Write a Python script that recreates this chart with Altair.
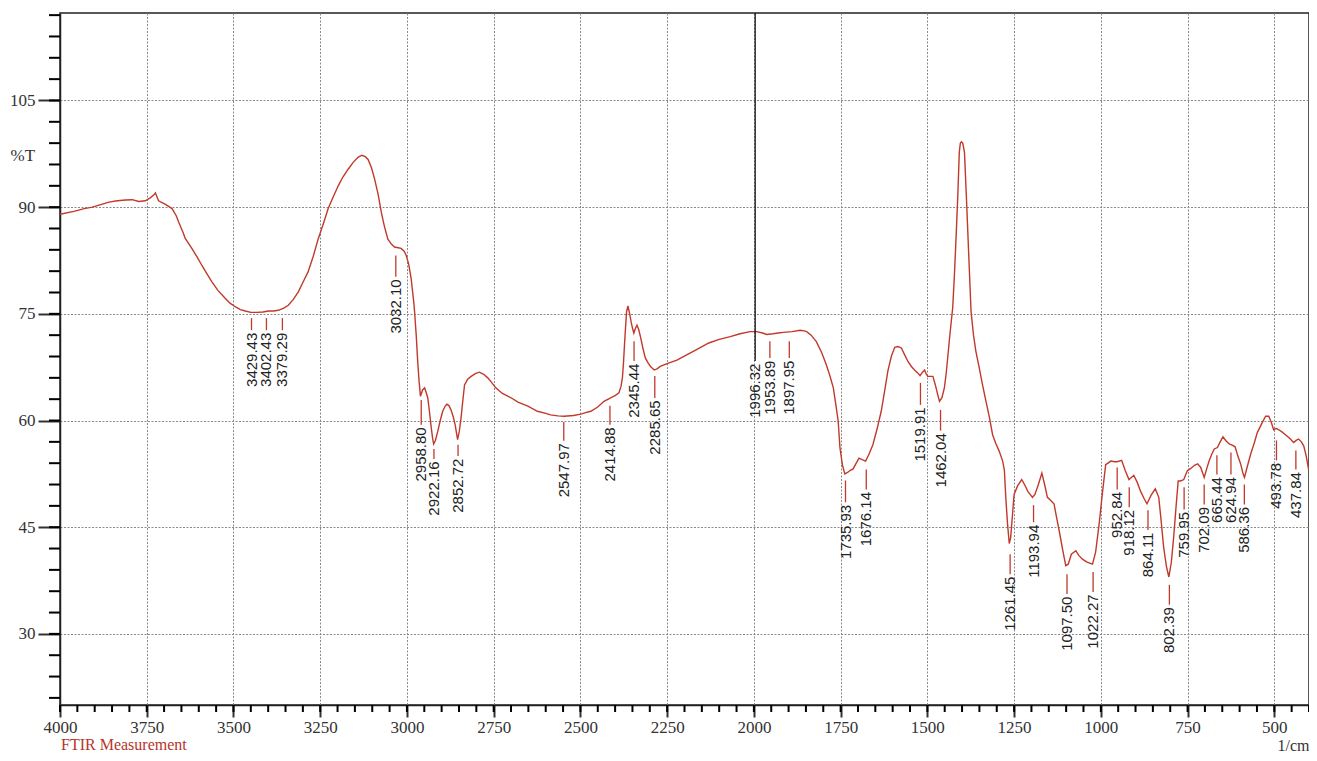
import altair as alt
import pandas as pd

# ---------------- spectrum ----------------
wavenumber = [
    4000, 3960, 3930, 3907, 3880, 3859, 3835, 3811, 3792, 3773, 3754, 3740, 3730, 3725, 3720, 3716,
    3696, 3677, 3665, 3658, 3645, 3639, 3620, 3605, 3591, 3575, 3562, 3545, 3524, 3510, 3495, 3480,
    3466, 3450, 3433, 3415, 3399, 3385, 3371, 3355, 3342, 3328, 3313, 3300, 3285, 3270, 3256, 3240,
    3227, 3212, 3198, 3185, 3170, 3155, 3141, 3130, 3120, 3112, 3102, 3093, 3083, 3074, 3065, 3055,
    3045, 3036, 3025, 3017, 3008, 3002, 2995, 2988, 2980, 2978, 2973, 2969, 2965, 2961, 2955, 2949,
    2945, 2940, 2935, 2930, 2926, 2923, 2918, 2911, 2904, 2897, 2890, 2885, 2879, 2873, 2867, 2861,
    2857, 2854, 2849, 2844, 2839, 2834, 2825, 2815, 2803, 2791, 2779, 2767, 2755, 2744, 2725, 2700,
    2680, 2650, 2624, 2600, 2586, 2565, 2547, 2520, 2499, 2485, 2470, 2450, 2432, 2413, 2400, 2389,
    2383, 2379, 2376, 2373, 2370, 2367, 2363, 2358, 2354, 2350, 2346, 2341, 2337, 2332, 2327, 2320,
    2313, 2305, 2298, 2287, 2278, 2270, 2250, 2222, 2195, 2164, 2130, 2100, 2068, 2040, 2011, 1992,
    1975, 1963, 1945, 1930, 1915, 1890, 1867, 1855, 1848, 1835, 1820, 1805, 1791, 1781, 1771, 1764,
    1757, 1752, 1745, 1738, 1730, 1722, 1714, 1705, 1697, 1688, 1678, 1668, 1657, 1645, 1633, 1622,
    1614, 1604, 1594, 1585, 1575, 1565, 1556, 1546, 1537, 1528, 1521, 1514, 1508, 1503, 1499, 1490,
    1484, 1477, 1470, 1465, 1458, 1451, 1446, 1441, 1436, 1431, 1427, 1422, 1417, 1412, 1408, 1405,
    1402, 1398, 1393, 1388, 1383, 1378, 1374, 1367, 1360, 1350, 1341, 1331, 1321, 1312, 1303, 1293,
    1283, 1278, 1274, 1269, 1264, 1260, 1256, 1250, 1240, 1228, 1220, 1210, 1197, 1190, 1180, 1170,
    1162, 1154, 1145, 1135, 1128, 1120, 1110, 1101, 1094, 1085, 1072, 1063, 1053, 1040, 1024, 1015,
    1005, 995, 986, 971, 960, 953, 940, 930, 919, 912, 905, 895, 885, 875, 867, 855,
    843, 833, 826, 819, 811, 804, 797, 790, 783, 777, 770, 761, 751, 740, 730, 721,
    712, 702, 695, 688, 680, 673, 664, 656, 648, 640, 630, 620, 613, 605, 597, 590,
    586, 578, 568, 558, 549, 537, 525, 516, 509, 502, 495, 487, 478, 468, 456, 444,
    437, 430, 422, 415, 408, 401,
]
transmittance = [
    89.0, 89.4, 89.8, 90.0, 90.4, 90.7, 90.9, 91.0, 91.05, 90.8, 90.9, 91.3, 91.7, 92.0, 91.4, 90.9,
    90.4, 89.8, 88.8, 87.9, 86.4, 85.6, 84.2, 83.0, 81.8, 80.5, 79.5, 78.3, 77.2, 76.5, 76.0, 75.6,
    75.4, 75.2, 75.2, 75.25, 75.4, 75.4, 75.5, 75.8, 76.2, 77.0, 78.1, 79.4, 80.9, 83.1, 85.5, 87.8,
    89.8, 91.5, 93.0, 94.2, 95.3, 96.3, 97.0, 97.3, 97.1, 96.7, 95.5, 93.9, 91.8, 89.3, 87.3, 85.5,
    84.8, 84.4, 84.3, 84.2, 83.8, 83.2, 82.0, 80.0, 76.5, 75.3, 71.8, 68.3, 65.5, 63.4, 64.3, 64.6,
    64.0, 63.2, 61.2, 59.0, 57.5, 56.7, 57.2, 58.5, 60.0, 61.3, 62.0, 62.3, 62.1, 61.5, 60.6, 59.4,
    58.2, 57.3, 58.5, 60.4, 62.8, 65.0, 65.8, 66.2, 66.6, 66.8, 66.5, 66.0, 65.3, 64.6, 63.8, 63.2,
    62.6, 62.0, 61.3, 61.0, 60.8, 60.65, 60.6, 60.7, 60.9, 61.1, 61.3, 61.9, 62.7, 63.2, 63.5, 63.9,
    64.8, 66.0, 68.0, 70.6, 73.0, 75.3, 76.1, 75.0, 73.9, 73.0, 72.3, 73.0, 73.4, 72.8, 71.8, 70.2,
    68.8, 68.1, 67.6, 67.1, 67.3, 67.6, 68.0, 68.5, 69.2, 70.0, 70.9, 71.4, 71.8, 72.2, 72.5, 72.5,
    72.3, 72.1, 72.2, 72.3, 72.4, 72.5, 72.7, 72.6, 72.5, 72.0, 71.1, 69.6, 67.8, 66.3, 64.6, 62.3,
    59.9, 56.2, 53.8, 52.5, 52.7, 53.0, 53.2, 54.0, 54.7, 54.5, 54.3, 55.3, 56.6, 58.8, 61.3, 64.5,
    66.9, 69.0, 70.3, 70.4, 70.2, 69.2, 68.3, 67.6, 67.1, 66.7, 66.3, 66.8, 67.1, 66.5, 66.2, 66.2,
    66.2, 65.0, 63.6, 62.7, 63.2, 64.6, 66.5, 69.0, 71.6, 74.0, 75.8, 80.5, 86.0, 92.0, 97.7, 99.0,
    99.2, 99.0, 97.7, 92.0, 86.0, 80.0, 75.3, 72.0, 69.7, 67.3, 65.0, 62.7, 60.4, 58.0, 56.8, 55.7,
    54.3, 53.0, 49.2, 45.5, 42.7, 43.5, 45.9, 49.6, 50.8, 51.7, 51.0, 50.0, 49.2, 49.6, 51.0, 52.6,
    51.0, 49.2, 48.8, 48.3, 46.5, 44.5, 41.8, 39.6, 39.8, 41.2, 41.7, 41.0, 40.5, 40.1, 39.8, 41.5,
    45.4, 50.0, 53.8, 54.3, 54.2, 54.2, 54.4, 53.0, 51.7, 52.0, 52.3, 51.3, 50.0, 49.0, 48.3, 49.5,
    50.4, 49.2, 45.8, 42.2, 39.5, 38.0, 40.0, 43.6, 48.0, 51.5, 51.5, 51.7, 52.9, 53.3, 53.7, 53.9,
    53.4, 52.0, 53.2, 54.3, 55.3, 56.0, 56.2, 57.0, 57.7, 57.2, 56.7, 56.5, 56.3, 55.0, 53.9, 52.5,
    52.0, 53.5, 55.3, 56.8, 58.3, 59.5, 60.6, 60.6, 59.8, 58.7, 58.9, 58.7, 58.4, 58.0, 57.5, 56.9,
    57.2, 57.4, 57.0, 56.4, 55.0, 53.1,
]

# ---------------- peak annotations ----------------
peak_labels = [
    "3429.43", "3402.43", "3379.29", "3032.10", "2958.80", "2922.16", "2852.72", "2547.97",
    "2414.88", "2345.44", "2285.65", "1996.32", "1953.89", "1897.95", "1735.93", "1676.14",
    "1519.91", "1462.04", "1261.45", "1193.94", "1097.50", "1022.27", "952.84", "918.12",
    "864.11", "802.39", "759.95", "702.09", "665.44", "624.94", "586.36", "493.78", "437.84",
]
label_pos = [
    3448, 3405, 3359, 3032.10, 2958.80, 2922.16, 2852.72, 2547.97,
    2414.88, 2345.44, 2285.65, 1996.32, 1953.89, 1897.95, 1735.93, 1676.14,
    1519.91, 1462.04, 1261.45, 1193.94, 1097.50, 1022.27, 952.84, 918.12,
    864.11, 802.39, 759.95, 702.09, 665.44, 624.94, 586.36, 493.78, 437.84,
]
leader_top = [
    74.4, 74.4, 74.4, 83.2, 62.9, 56.0, 56.6, 59.8,
    62.06, 71.15, 66.26, 117.3, 71.15, 71.15, 51.57, 53.1,
    65.3, 61.5, 41.2, 48.1, 38.4, 38.7, 53.4, 50.6,
    47.4, 36.9, 50.6, 51.0, 55.1, 55.5, 51.0, 57.2, 55.8,
]
leader_bottom = [
    72.7, 72.7, 72.7, 80.2, 59.4, 54.6, 55.0, 57.17,
    59.4, 68.36, 63.18, 68.36, 68.78, 68.78, 48.5, 50.3,
    62.2, 58.57, 38.4, 45.7, 35.6, 35.9, 50.3, 47.8,
    44.6, 34.1, 47.5, 48.2, 52.4, 52.4, 48.2, 54.4, 53.1,
]

x_major = list(range(4000, 499, -250))
x_minor = list(range(4000, 399, -50))
y_major = list(range(30, 106, 15))
y_minor = list(range(21, 118, 3))

spec = pd.DataFrame({"wn": wavenumber, "T": transmittance})
peaks = pd.DataFrame({"label": peak_labels, "pos": label_pos,
                      "top": leader_top, "bot": leader_bottom})
peaks["text_y"] = peaks["bot"] - 0.35

RED = "#c0392b"
INK = "#000000"
SERIF = "Liberation Serif"
SANS = "Liberation Sans"
PLOT_W = 1249
PLOT_H = 692

xscale = alt.Scale(domain=[4000, 400], nice=False, zero=False)
yscale = alt.Scale(domain=[20, 117.3], nice=False, zero=False)

x_axis = alt.Axis(
    values=x_major, format="d", title="1/cm",
    labelOverlap=False, labelFlush=False, labelFont=SERIF, labelFontSize=17,
    labelColor="#333", labelPadding=2,
    grid=True, gridColor="#8a8a8a", gridDash=[2, 1.5], gridWidth=1,
    ticks=True, tickSize=12, tickColor="#333", tickWidth=2,
    domain=True, domainColor="#222", domainWidth=1.5,
    titleFont=SERIF, titleFontSize=16, titleFontWeight="normal", titleColor="#333",
    titleAngle=0, titleAlign="right", titleBaseline="middle", titleX=PLOT_W, titleY=40,
)
y_axis = alt.Axis(
    values=y_major, format="d", title="%T",
    labelOverlap=False, labelFlush=False, labelFont=SERIF, labelFontSize=17,
    labelColor="#333", labelPadding=3,
    grid=True, gridColor="#8a8a8a", gridDash=[2, 1.5], gridWidth=1,
    ticks=True, tickSize=22, tickColor="#333", tickWidth=2,
    domain=True, domainColor="#222", domainWidth=1.5,
    titleFont=SERIF, titleFontSize=17, titleFontWeight="normal", titleColor="#333",
    titleAngle=0, titleAlign="left", titleBaseline="middle", titleX=-50, titleY=142,
)

curve = alt.Chart(spec).mark_line(color=RED, strokeWidth=1.4).encode(
    x=alt.X("wn:Q", scale=xscale, axis=x_axis),
    y=alt.Y("T:Q", scale=yscale, axis=y_axis),
)

# minor ticks, drawn just outside the frame
x_minor_ticks = alt.Chart(pd.DataFrame({"v": x_minor})).mark_rule(
    color=INK, strokeWidth=2, clip=False
).encode(
    x=alt.X("v:Q", scale=xscale, axis=x_axis),
    y=alt.value(PLOT_H), y2=alt.value(PLOT_H + 7),
)
y_minor_ticks = alt.Chart(pd.DataFrame({"v": y_minor})).mark_rule(
    color=INK, strokeWidth=2, clip=False
).encode(
    y=alt.Y("v:Q", scale=yscale, axis=y_axis),
    x=alt.value(0), x2=alt.value(-11),
)

leaders = alt.Chart(peaks).mark_rule(strokeWidth=1.3).encode(
    x=alt.X("pos:Q", scale=xscale, axis=x_axis),
    y=alt.Y("top:Q", scale=yscale, axis=y_axis),
    y2="bot:Q",
    color=alt.condition("datum.label == '1996.32'", alt.value("#111"), alt.value(RED)),
)

peak_text = alt.Chart(peaks).mark_text(
    angle=270, align="right", baseline="middle", font=SANS, fontSize=15, color="#222"
).encode(
    x=alt.X("pos:Q", scale=xscale, axis=x_axis),
    y=alt.Y("text_y:Q", scale=yscale, axis=y_axis),
    text="label:N",
)

footer = alt.Chart(pd.DataFrame({"t": ["FTIR Measurement"]})).mark_text(
    align="left", baseline="middle", font=SERIF, fontSize=16, color="#b8332a"
).encode(x=alt.value(1), y=alt.value(PLOT_H + 40), text="t:N")

chart = alt.layer(
    curve, x_minor_ticks, y_minor_ticks, leaders, peak_text, footer
).properties(
    width=PLOT_W, height=PLOT_H,
    autosize=alt.AutoSizeParams(type="none"),
    padding={"left": 52, "top": 5, "right": 0, "bottom": 48},
    background="white",
).configure_view(stroke="#222", strokeWidth=1.5)

chart.save("out.html", embed_options={"renderer": "svg", "actions": False})
